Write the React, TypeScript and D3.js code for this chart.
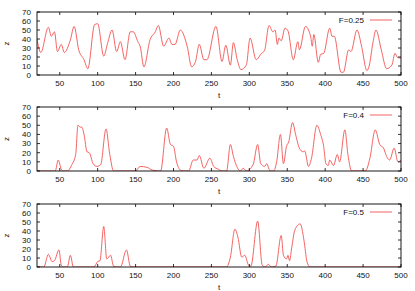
import * as d3 from "d3";

// (t, z) samples
const SERIES_025: [number, number][] = [
  [20, 40], [25, 25], [35, 53], [39, 43], [43, 48], [47, 26], [52, 34], [56, 25], [64, 39], [69, 54],
  [75, 28], [82, 17], [87, 7], [96, 56], [100, 57], [108, 21], [113, 35], [119, 50], [125, 26], [130, 37],
  [136, 17], [143, 48], [147, 48], [153, 37], [156, 32], [161, 9], [169, 39], [176, 48], [180, 55], [187, 32],
  [194, 41], [198, 34], [202, 34], [209, 50], [218, 32], [224, 9], [229, 15], [234, 34], [240, 17], [244, 17],
  [256, 54], [264, 15], [269, 33], [275, 11], [279, 36], [284, 17], [289, 6], [296, 11], [301, 41], [309, 17],
  [316, 24], [320, 27], [326, 55], [331, 48], [334, 50], [337, 34], [339, 41], [342, 38], [347, 52], [351, 49],
  [358, 17], [364, 37], [366, 28], [374, 54], [378, 50], [381, 42], [383, 32], [385, 45], [391, 14], [394, 23],
  [398, 24], [406, 52], [409, 43], [412, 43], [421, 3], [424, 3], [431, 28], [434, 26], [442, 50], [448, 32],
  [455, 5], [458, 10], [463, 36], [467, 50], [474, 28], [481, 7], [488, 11], [492, 24], [496, 19], [500, 19],
];

const SERIES_04: [number, number][] = [
  [20, 0], [44, 0], [48, 12], [52, 2], [55, 0], [60, 0], [66, 7], [71, 18], [74, 50], [77, 48],
  [79, 48], [82, 40], [86, 21], [89, 20], [94, 8], [99, 5], [104, 7], [111, 46], [116, 18], [121, 0],
  [150, 0], [156, 5], [165, 4], [172, 1], [183, 0], [191, 47], [196, 29], [200, 27], [204, 10], [209, 1],
  [213, 0], [220, 0], [226, 12], [231, 12], [234, 17], [240, 3], [248, 14], [253, 5], [259, 2], [264, 0],
  [270, 0], [275, 29], [279, 16], [284, 4], [288, 0], [292, 3], [296, 0], [305, 7], [311, 29], [315, 8],
  [320, 5], [323, 8], [326, 2], [328, 0], [332, 0], [336, 10], [341, 40], [345, 8], [349, 27], [352, 32],
  [357, 53], [361, 40], [366, 25], [371, 21], [373, 22], [378, 5], [382, 14], [389, 50], [394, 40], [398, 27],
  [401, 8], [404, 6], [406, 12], [411, 6], [416, 18], [419, 10], [426, 45], [430, 18], [435, 0], [453, 0],
  [459, 14], [466, 45], [472, 29], [477, 25], [481, 16], [485, 12], [491, 25], [496, 10], [500, 12],
];

const SERIES_05: [number, number][] = [
  [20, 0], [29, 0], [35, 14], [40, 6], [43, 7], [49, 19], [52, 2], [55, 0], [60, 0], [64, 13],
  [68, 0], [95, 0], [100, 6], [103, 7], [108, 45], [112, 9], [117, 13], [121, 1], [125, 0], [130, 0],
  [138, 19], [143, 1], [147, 0], [270, 0], [275, 11], [281, 42], [285, 33], [290, 11], [294, 13], [299, 2],
  [302, 1], [311, 51], [317, 2], [321, 0], [325, 3], [329, 0], [335, 1], [342, 35], [345, 13], [349, 9],
  [351, 13], [353, 7], [356, 22], [360, 41], [367, 48], [372, 30], [376, 6], [380, 0], [500, 0],
];

const LABELS = ["F=0.25", "F=0.4", "F=0.5"];
const X_TICKS = [50, 100, 150, 200, 250, 300, 350, 400, 450, 500];
const Y_TICKS = [0, 10, 20, 30, 40, 50, 60, 70];

const LEFT = 37;
const RIGHT = 401;
const PANELS = [
  { top: 12, bottom: 75, data: SERIES_025, label: LABELS[0] },
  { top: 107, bottom: 171, data: SERIES_04, label: LABELS[1] },
  { top: 204, bottom: 267, data: SERIES_05, label: LABELS[2] },
];

const FONT = "'Liberation Sans', Arial, sans-serif";
const RED = "#f24848";

function Panel({ top, bottom, data, label }: { top: number; bottom: number; data: [number, number][]; label: string }) {
  const x = d3.scaleLinear().domain([20, 500]).range([LEFT, RIGHT]);
  const y = d3.scaleLinear().domain([0, 70]).range([bottom, top]);
  const line = d3
    .line<[number, number]>()
    .x((d) => x(d[0]))
    .y((d) => y(d[1]))
    .curve(d3.curveMonotoneX);
  const tick = 3;
  return (
    <g>
      <clipPath id={`clip-${top}`}>
        <rect x={LEFT} y={top} width={RIGHT - LEFT} height={bottom - top} />
      </clipPath>
      <path d={line(data) || ""} fill="none" stroke={RED} strokeWidth={0.85} clipPath={`url(#clip-${top})`} />
      {X_TICKS.map((t) => (
        <g key={t}>
          <line x1={x(t)} x2={x(t)} y1={bottom} y2={bottom - tick} stroke="#000" strokeWidth={0.8} />
          <line x1={x(t)} x2={x(t)} y1={top} y2={top + tick} stroke="#000" strokeWidth={0.8} />
          <text x={x(t)} y={bottom + 11} textAnchor="middle" fontSize={8} fontFamily={FONT} fill="#111">
            {t}
          </text>
        </g>
      ))}
      {Y_TICKS.map((v) => (
        <g key={v}>
          <line x1={LEFT} x2={LEFT + tick} y1={y(v)} y2={y(v)} stroke="#000" strokeWidth={0.8} />
          <line x1={RIGHT} x2={RIGHT - tick} y1={y(v)} y2={y(v)} stroke="#000" strokeWidth={0.8} />
          <text x={31} y={y(v)} dy="0.35em" textAnchor="end" fontSize={8} fontFamily={FONT} fill="#111">
            {v}
          </text>
        </g>
      ))}
      <rect x={LEFT} y={top} width={RIGHT - LEFT} height={bottom - top} fill="none" stroke="#000" strokeWidth={0.9} />
      <text x={(LEFT + RIGHT) / 2} y={bottom + 23} textAnchor="middle" fontSize={8} fontFamily={FONT} fill="#111">
        t
      </text>
      <text
        transform={`translate(9,${(top + bottom) / 2}) rotate(-90)`}
        textAnchor="middle"
        fontSize={8}
        fontFamily={FONT}
        fill="#111"
      >
        z
      </text>
      <text x={364} y={top + 8} dy="0.35em" textAnchor="end" fontSize={8} fontFamily={FONT} fill="#111">
        {label}
      </text>
      <line x1={370} x2={392} y1={top + 8} y2={top + 8} stroke={RED} strokeWidth={0.85} />
    </g>
  );
}

export default function App() {
  return (
    <svg
      width={415}
      height={291}
      style={{ position: "absolute", left: 0, top: 0, background: "#fff" }}
    >
      {PANELS.map((p) => (
        <Panel key={p.top} {...p} />
      ))}
    </svg>
  );
}
